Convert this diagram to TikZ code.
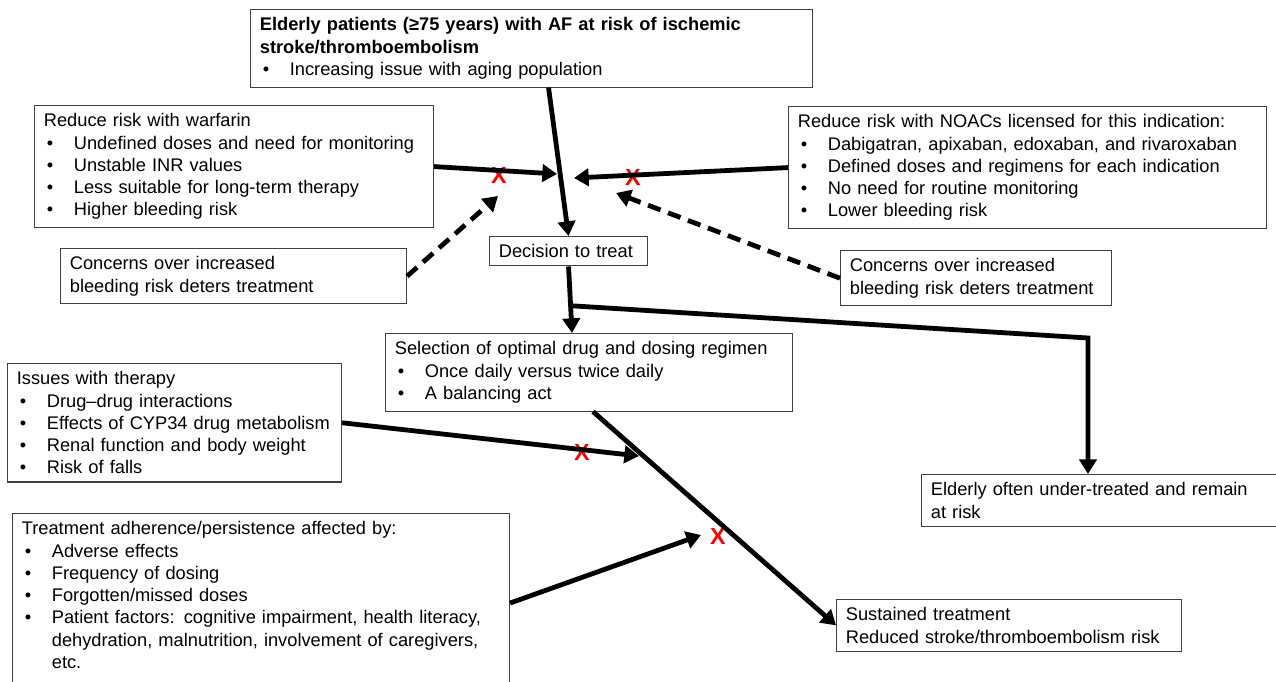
\documentclass[tikz,border=0pt]{standalone}
\usepackage{fontspec}
\setmainfont{Liberation Sans}
\usetikzlibrary{arrows.meta,calc}
\newcommand{\bitem}[1]{\par\hangindent=22.5pt\hangafter=1\noindent\makebox[22.5pt][l]{\hspace{2.3pt}\textbullet}#1}

\begin{document}
\begin{tikzpicture}[x=0.75pt,y=-0.75pt,
    every node/.style={rectangle, draw=black!75, line width=0.8pt, anchor=north west, align=left, inner xsep=7pt, inner ysep=6pt, font=\fontsize{13.7}{16.7}\selectfont},
    link/.style={line width=3.6pt, -{Triangle[length=11pt,width=13pt]}},
    dlink/.style={link, dash pattern=on 10pt off 6pt},
    nox/.style={draw=none, anchor=center, inner sep=0pt, text=red, font=\fontsize{17.5}{17.5}\selectfont\bfseries}]
      \useasboundingbox (0,0) rectangle (1276,681);

      \node[text width=407.5pt] (0) at (250,9) {\textbf{Elderly patients (≥75 years) with AF at risk of ischemic}\newline\textbf{stroke/thromboembolism}\bitem{Increasing issue with aging population}};
      \node[text width=285.25pt] (1) at (34,105) {Reduce risk with warfarin\bitem{Undefined doses and need for monitoring}\bitem{Unstable INR values}\bitem{Less suitable for long-term therapy}\bitem{Higher bleeding risk}};
      \node[text width=344.5pt] (2) at (788,106) {Reduce risk with NOACs licensed for this indication:\bitem{Dabigatran, apixaban, edoxaban, and rivaroxaban}\bitem{Defined doses and regimens for each indication}\bitem{No need for routine monitoring}\bitem{Lower bleeding risk}};
      \node[text width=245.5pt] (3) at (60,248) {Concerns over increased\newline bleeding risk deters treatment};
      \node[text width=189.25pt] (4) at (840,250) {Concerns over increased\newline bleeding risk deters treatment};
      \node[text width=104.5pt] (5) at (489,236) {Decision to treat};
      \node[text width=291.25pt] (6) at (385,333) {Selection of optimal drug and dosing regimen\bitem{Once daily versus twice daily}\bitem{A balancing act}};
      \node[text width=236.5pt] (7) at (7,363) {Issues with therapy\bitem{Drug--drug interactions}\bitem{Effects of CYP34 drug metabolism}\bitem{Renal function and body weight}\bitem{Risk of falls}};
      \node[text width=358.75pt] (8) at (12,513) {Treatment adherence/persistence affected by:\bitem{Adverse effects}\bitem{Frequency of dosing}\bitem{Forgotten/missed doses}\bitem{Patient factors: cognitive impairment, health literacy,\newline dehydration, malnutrition, involvement of caregivers,\newline etc.}\par\kern12pt};
      \node[text width=262pt] (9) at (921,474) {Elderly often under-treated and remain\newline at risk};
      \node[text width=244.75pt] (10) at (836,599) {Sustained treatment\newline Reduced stroke/thromboembolism risk};

      \node[nox] (x1) at (499,175) {X};
      \node[nox] (x2) at (633,177) {X};
      \node[nox] (x3) at (582,452) {X};
      \node[nox] (x4) at (718,536) {X};

      \coordinate (c1) at (557,174);
      \coordinate (c2) at (574,178);
      \coordinate (c3) at (498,196);
      \coordinate (c4) at (616,193);
      \coordinate (c5) at (1088,338);
      \coordinate (c6) at (639,456);
      \coordinate (c7) at (701,535);
      \coordinate (fork) at ($(5.south)!0.59!($(6.north)+(-17,0)$)$);

      \draw[link] ($(0.south)+(17,0)$) -- (5.north);
      \draw[link] (1.east) -- (c1);
      \draw[link] (2.west) -- (c2);
      \draw[dlink] (3.east) -- (c3);
      \draw[dlink] (4.west) -- (c4);
      \draw[link] (5.south) -- ($(6.north)+(-17,0)$);
      \draw[link] (fork) -- (c5) -- (c5 |- 9.north);
      \draw[link] ($(6.south)+(4,0)$) -- (10.west);
      \draw[link] (7.east) -- (c6);
      \draw[link] (8.east) -- (c7);

    \end{tikzpicture}
\end{document}
